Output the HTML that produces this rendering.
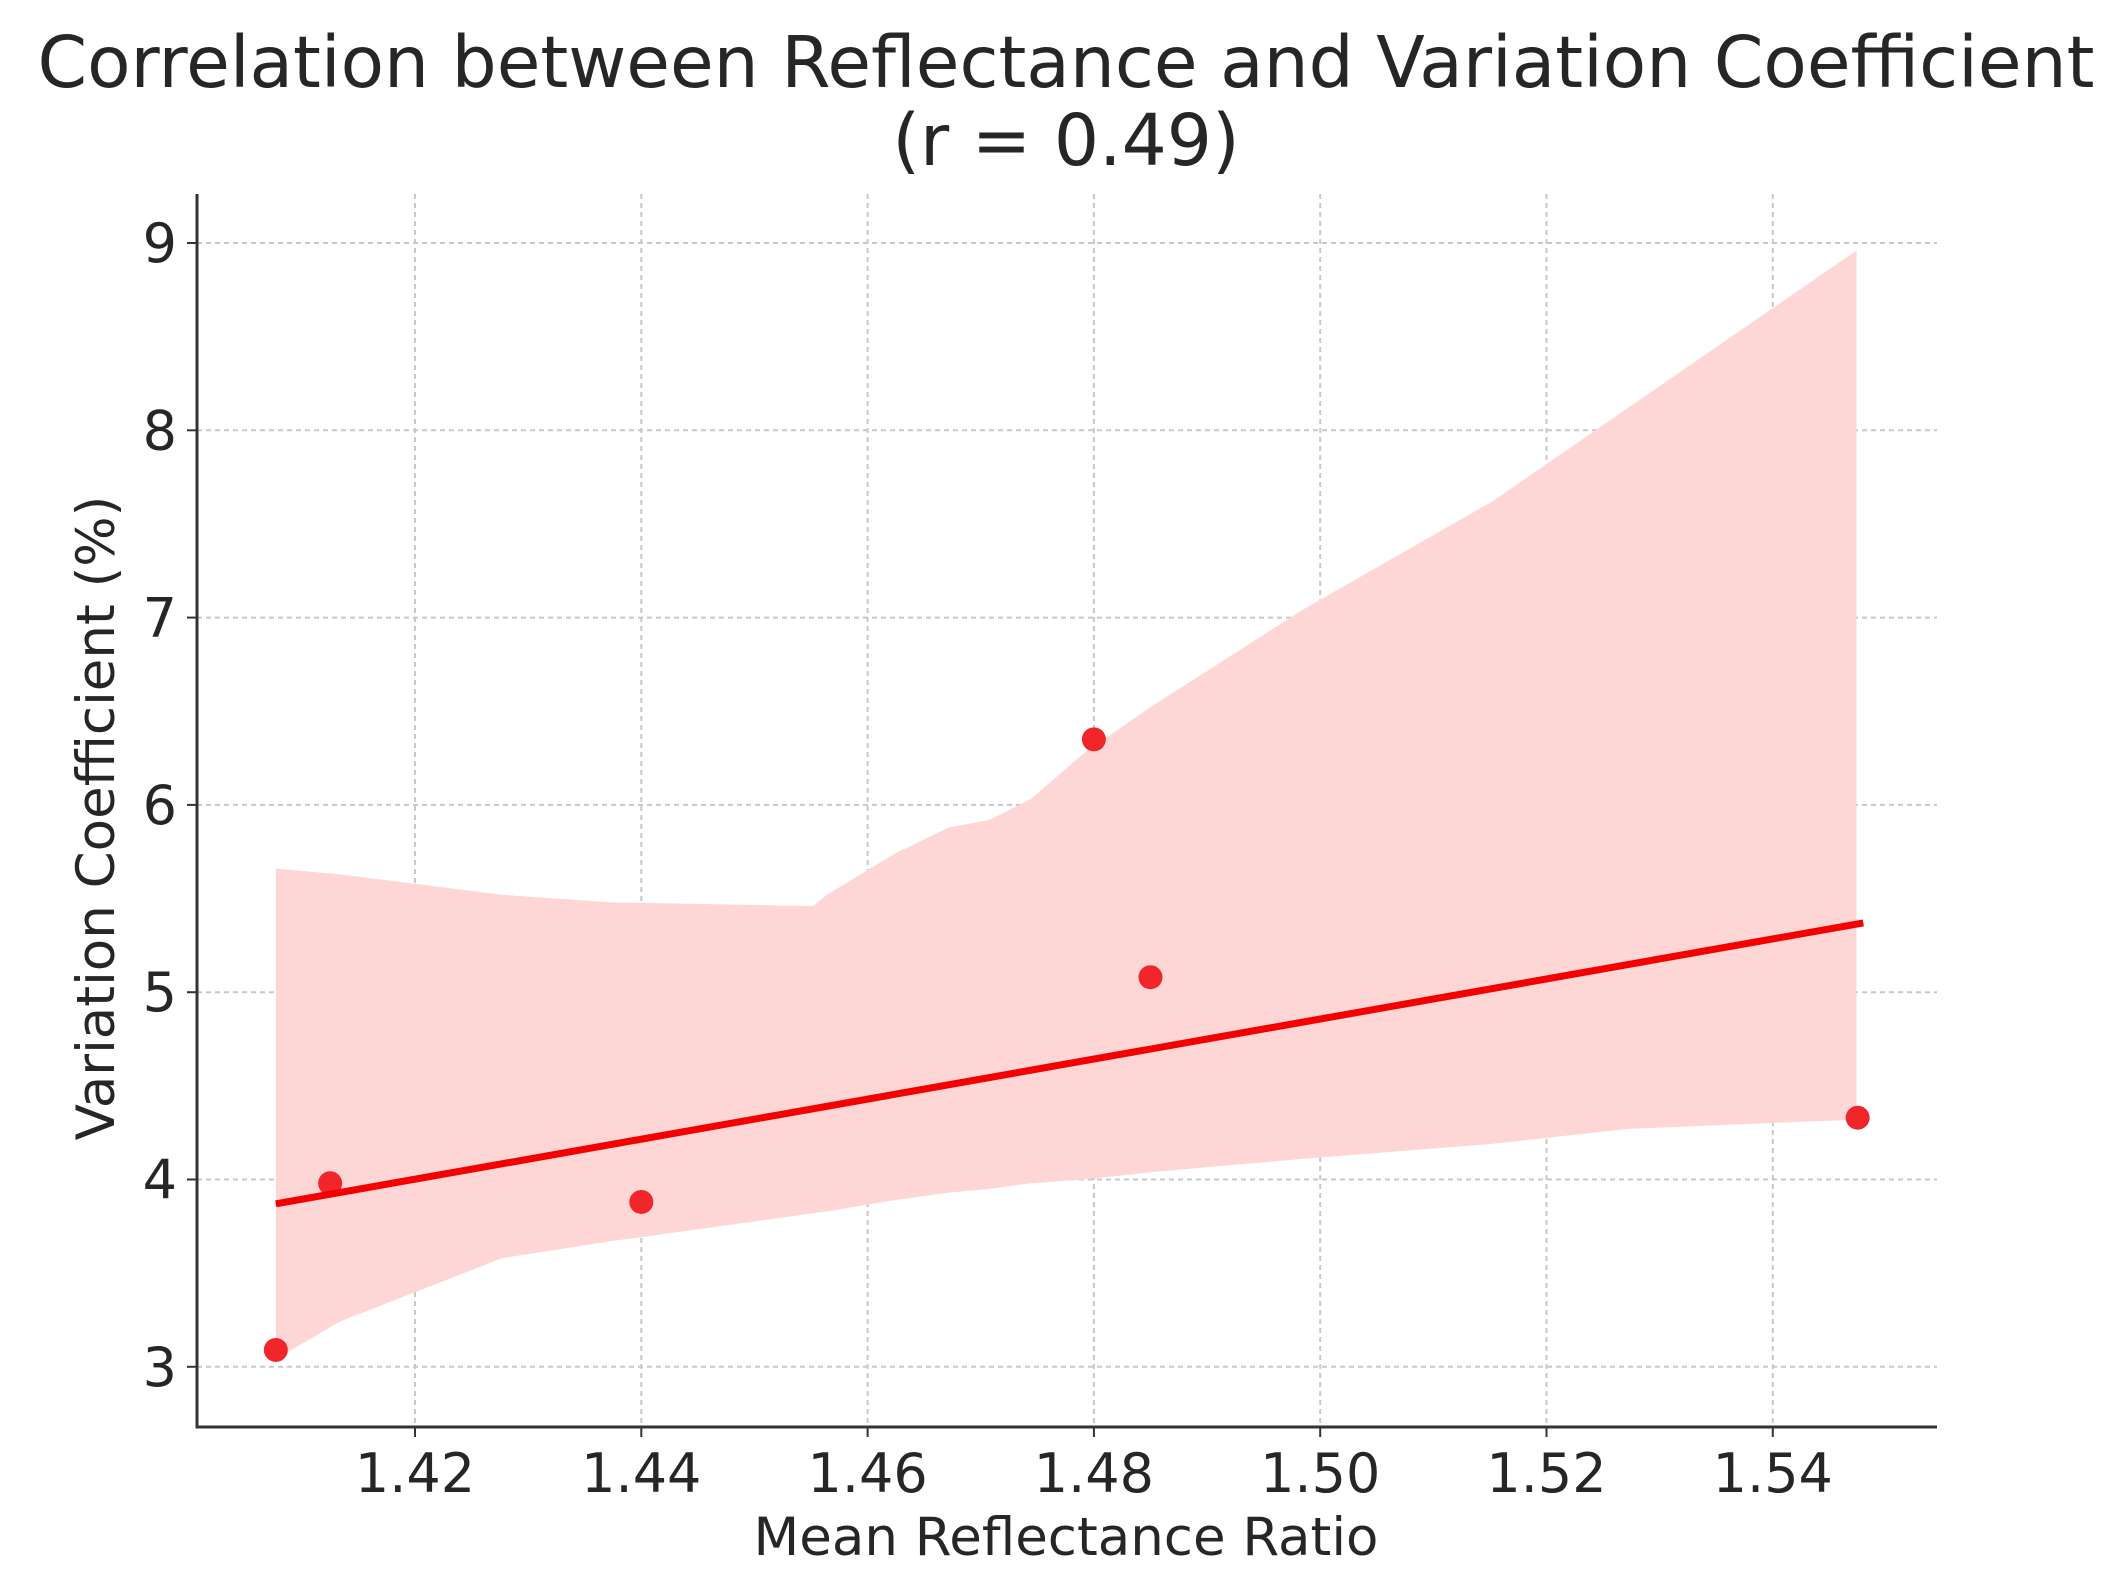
<!DOCTYPE html>
<html><head><meta charset="utf-8">
<style>
html,body{margin:0;padding:0;background:#fff;}
svg{display:block;font-family:"DejaVu Sans","Liberation Sans",sans-serif;}
</style></head>
<body>
<svg id="chart" width="2116" height="1583" viewBox="0 0 2116 1583" xmlns="http://www.w3.org/2000/svg">
<text x="1066" y="87" text-anchor="middle" font-size="71" fill="#262626">Correlation between Reflectance and Variation Coefficient</text>
<text x="1066" y="165" text-anchor="middle" font-size="71" fill="#262626">(r = 0.49)</text>
<g id="grid"></g>
<g id="band"></g>
<g id="marks"></g>
<g id="axes"></g>
<text x="1066" y="1555" text-anchor="middle" font-size="53" fill="#262626">Mean Reflectance Ratio</text>
<text transform="translate(114,818) rotate(-90)" text-anchor="middle" font-size="53" fill="#262626">Variation Coefficient (%)</text>
</svg>
<script>
const xs = [1.4077, 1.4125, 1.44, 1.48, 1.485, 1.5475];
const ys = [3.09, 3.98, 3.88, 6.35, 5.08, 4.33];
const fitX = [1.4077, 1.548];
const fitY = [3.87, 5.37];
const bandX = [1.4077,1.4133,1.4277,1.4373,1.4552,1.4564,1.4624,1.4672,1.4708,1.4744,1.4792,1.4852,1.4984,1.5152,1.5272,1.5474];
const bandUpper = [5.66,5.63,5.52,5.48,5.46,5.52,5.74,5.88,5.92,6.03,6.28,6.53,7.04,7.62,8.12,8.96];
const bandLower = [3.04,3.24,3.58,3.67,3.82,3.83,3.89,3.93,3.95,3.98,4.00,4.04,4.11,4.19,4.27,4.32];
const xTicks = [1.42,1.44,1.46,1.48,1.50,1.52,1.54];
const xTickLabels = ["1.42","1.44","1.46","1.48","1.50","1.52","1.54"];
const yTicks = [3,4,5,6,7,8,9];
const yTickLabels = ["3","4","5","6","7","8","9"];

const NS="http://www.w3.org/2000/svg";
const L=197,R=1937,T=194,B=1427;
function sx(v){return 415+(v-1.42)/0.02*226.3;}
function sy(v){return 243+(9-v)*187.3;}
function mk(tag,parent,attrs){const e=document.createElementNS(NS,tag);for(const k in attrs)e.setAttribute(k,attrs[k]);document.getElementById(parent).appendChild(e);return e;}

xTicks.forEach((t,i)=>{
  const g=mk('line','grid',{x1:sx(t),x2:sx(t),y1:T,y2:B,stroke:'#c8c8c8','stroke-width':2,'stroke-dasharray':'5,4'});
  
  
  const tk=mk('line','axes',{x1:sx(t),x2:sx(t),y1:B,y2:B+10,stroke:'#333','stroke-width':2});
  
  
  const tx=mk('text','axes',{x:sx(t),y:B+65,'text-anchor':'middle','font-size':54,fill:'#262626'});
  tx.textContent=xTickLabels[i];
  
  
});
yTicks.forEach((t,i)=>{
  const g=mk('line','grid',{x1:L,x2:R,y1:sy(t),y2:sy(t),stroke:'#c8c8c8','stroke-width':2,'stroke-dasharray':'5,4'});
  
  
  const tk=mk('line','axes',{x1:L-10,x2:L,y1:sy(t),y2:sy(t),stroke:'#333','stroke-width':2});
  
  
  const tx=mk('text','axes',{x:L-20,y:sy(t)+19,'text-anchor':'end','font-size':54,fill:'#262626'});
  tx.textContent=yTickLabels[i];
  
  
});
let d='';
bandX.forEach((x,i)=>{d+=(i?'L':'M')+sx(x)+','+sy(bandUpper[i]);});
for(let i=bandX.length-1;i>=0;i--){d+='L'+sx(bandX[i])+','+sy(bandLower[i]);}
const band=mk('path','band',{d:d+'Z',fill:'#ffd6d6'});


xs.forEach((x,i)=>{
  const c=mk('circle','marks',{cx:sx(x),cy:sy(ys[i]),r:12,fill:'#f0262a'});
  
  
});
const fl=mk('line','marks',{x1:sx(fitX[0]),y1:sy(fitY[0]),x2:sx(fitX[1]),y2:sy(fitY[1]),stroke:'#f50000','stroke-width':7});


const ax=mk('path','axes',{d:`M${L},${T}L${L},${B}L${R},${B}`,fill:'none',stroke:'#333','stroke-width':3});


</script>
</body></html>
